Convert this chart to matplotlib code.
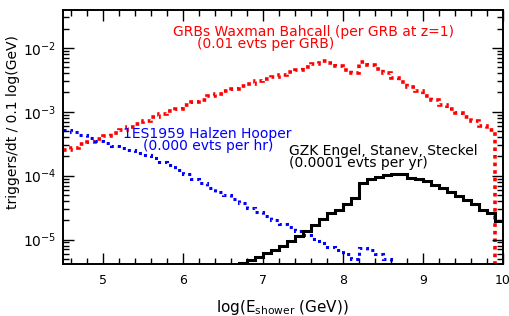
import matplotlib
matplotlib.use('Agg')
import matplotlib.pyplot as plt
import matplotlib.ticker as mticker
import numpy as np

plt.rcParams['font.family'] = ['DejaVu Sans']
plt.rcParams['mathtext.fontset'] = 'dejavusans'

# bin edges of log(E_shower / GeV), 0.1 wide
edges = np.round(np.arange(4.5, 10.0001, 0.1), 2)

# log10(triggers/dt) per bin, nan = empty bin
grb_log = [-3.60, -3.56, -3.51, -3.47, -3.43, -3.38, -3.34, -3.29, -3.24, -3.19,
           -3.14, -3.09, -3.04, -2.99, -2.95, -2.90, -2.85, -2.81, -2.76, -2.72,
           -2.68, -2.64, -2.60, -2.56, -2.52, -2.49, -2.45, -2.42, -2.38, -2.34,
           -2.30, -2.26, -2.21, -2.24, -2.29, -2.34, -2.40, -2.22, -2.27, -2.33,
           -2.40, -2.47, -2.54, -2.61, -2.68, -2.75, -2.82, -2.89, -2.95, -3.02,
           -3.09, -3.15, -3.22, -3.29, np.nan]
es1959_log = [-3.28, -3.32, -3.37, -3.41, -3.45, -3.49, -3.53, -3.57, -3.60, -3.64,
              -3.68, -3.73, -3.78, -3.84, -3.91, -3.98, -4.05, -4.12, -4.19, -4.25,
              -4.31, -4.37, -4.43, -4.50, -4.57, -4.63, -4.69, -4.75, -4.81, -4.87,
              -4.93, -4.99, -5.05, -5.11, -5.17, -5.22, -5.30, -5.13, -5.16, -5.22,
              -5.30, -5.38, np.nan, np.nan, np.nan, np.nan, np.nan, np.nan, np.nan, np.nan,
              np.nan, np.nan, np.nan, np.nan, np.nan]
gzk_log = [np.nan] * 22 + [
    -5.36, -5.32, -5.28, -5.21, -5.16, -5.10, -5.02, -4.94, -4.86, -4.77,
    -4.68, -4.59, -4.53, -4.45, -4.35, -4.11, -4.06, -4.02, -3.99, -3.97,
    -3.97, -4.03, -4.06, -4.09, -4.15, -4.20, -4.26, -4.32, -4.38, -4.45,
    -4.53, -4.59, -4.71]


def to_rate(logs):
    logs = np.array(logs, dtype=float)
    return np.where(np.isnan(logs), 1e-9, 10.0 ** logs)


fig = plt.figure(figsize=(5.10, 3.16), dpi=100)
ax = fig.add_axes([0.1235, 0.165, 0.8625, 0.803])

ax.stairs(to_rate(grb_log), edges, color='#ff0000', lw=2.6, ls=(0, (1, 1.1)), baseline=None)
ax.stairs(to_rate(es1959_log), edges, color='#0000ff', lw=2.2, ls=(0, (1, 1.3)), baseline=None)
ax.stairs(to_rate(gzk_log), edges, color='black', lw=2.2, baseline=None)

ax.set_yscale('log')
ax.set_xlim(4.5, 10)
ax.set_ylim(10 ** -5.38, 10 ** -1.41)

ax.xaxis.set_major_locator(mticker.MultipleLocator(1))
ax.xaxis.set_minor_locator(mticker.MultipleLocator(0.2))
ax.yaxis.set_major_locator(mticker.LogLocator(base=10))
ax.yaxis.set_minor_locator(mticker.LogLocator(base=10, subs=np.arange(2, 10)))
ax.yaxis.set_minor_formatter(mticker.NullFormatter())
ax.tick_params(which='both', direction='in', top=True, right=True)
ax.tick_params(axis='x', labelsize=9, pad=7)
ax.tick_params(axis='y', labelsize=10, pad=5)
ax.tick_params(which='major', length=8, width=1)
ax.tick_params(which='minor', length=4, width=1)
for s in ax.spines.values():
    s.set_linewidth(1.4)

ax.set_xlabel(r'log(E$_{\mathrm{shower}}$ (GeV))', fontsize=11, labelpad=8)
ax.set_ylabel('triggers/dt / 0.1 log(GeV)', fontsize=10)
ax.yaxis.set_label_coords(-0.097, 0.56)

note = dict(fontsize=10, va='baseline')
ax.text(5.88, 10 ** -1.817, 'GRBs Waxman Bahcall (per GRB at z=1)', color='#ff0000', **note)
ax.text(6.18, 10 ** -2.01, '(0.01 evts per GRB)', color='#ff0000', **note)
ax.text(5.25, 10 ** -3.416, '1ES1959 Halzen Hooper', color='#0000ff', **note)
ax.text(5.50, 10 ** -3.60, '(0.000 evts per hr)', color='#0000ff', **note)
ax.text(7.32, 10 ** -3.677, 'GZK Engel, Stanev, Steckel', color='black', **note)
ax.text(7.32, 10 ** -3.86, '(0.0001 evts per yr)', color='black', **note)

fig.savefig('out.png', dpi=100)
